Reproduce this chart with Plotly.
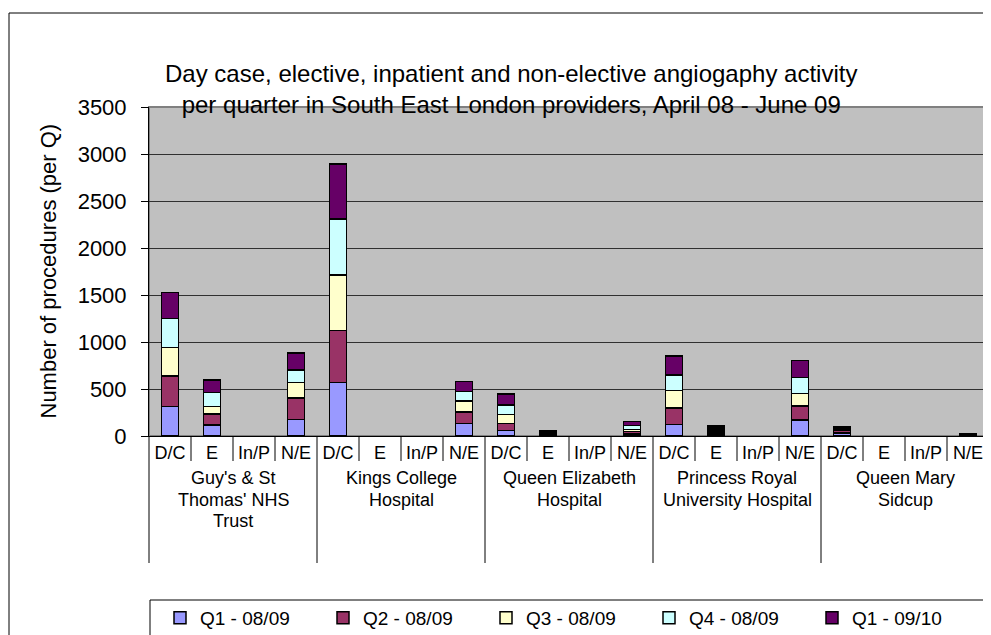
import plotly.graph_objects as go

hospitals = [["Guy's & St", "Thomas' NHS", "Trust"], ["Kings College", "Hospital"],
             ["Queen Elizabeth", "Hospital"], ["Princess Royal", "University Hospital"],
             ["Queen Mary", "Sidcup"]]
types = ["D/C", "E", "In/P", "N/E"]

series_names = ["Q1 - 08/09", "Q2 - 08/09", "Q3 - 08/09", "Q4 - 08/09", "Q1 - 09/10"]
colors = ["#9999FF", "#993366", "#FFFFCC", "#CCFFFF", "#660066"]

N = None
q1_0809 = [312, 117, N, 178, 567, N, N, 135, 56, 11, N, 22, 124, 21, N, 170, 30, N, N, 6]
q2_0809 = [326, 117, N, 227, 558, N, N, 123, 79, 11, N, 24, 173, 21, N, 149, 35, N, N, 6]
q3_0809 = [301, 78, N, 163, 589, N, N, 117, 96, 11, N, 25, 188, 21, N, 135, 10, N, N, 6]
q4_0809 = [309, 149, N, 135, 596, N, N, 96, 99, 11, N, 43, 166, 21, N, 170, 10, N, N, 6]
q1_0910 = [277, 135, N, 178, 585, N, N, 110, 117, 12, N, 39, 202, 22, N, 177, 14, N, N, 5]
series = [q1_0809, q2_0809, q3_0809, q4_0809, q1_0910]

y_ticks = [0, 500, 1000, 1500, 2000, 2500, 3000, 3500]

title_text = ("Day case, elective, inpatient and non-elective angiogaphy activity<br>"
              "per quarter in South East London providers, April 08 - June 09")

FONT = "Liberation Sans, Arial, sans-serif"
n_cat = len(hospitals) * len(types)
xs = list(range(n_cat))
tick_text = [t for _ in hospitals for t in types]

fig = go.Figure()
for name, col, vals in zip(series_names, colors, series):
    fig.add_trace(go.Bar(x=xs, y=vals, name=name,
                         marker=dict(color=col, line=dict(color="black", width=1.5))))

# page has 8px body margin: figure origin is at (8, 8) of the screenshot
OFF = 8
W, H = 991 - OFF, 635 - OFF
# plot geometry in screenshot pixels
L, R, T, B = 149, 989, 107, 436
pw, ph = R - L, B - T


def px_x(p):
    return (p - L) / pw


def px_y(p):
    return (B - p) / ph


shapes = []
# outer chart border
shapes.append(dict(type="rect", xref="paper", yref="paper", x0=px_x(9), x1=px_x(1100),
                   y0=px_y(800), y1=px_y(13), line=dict(color="black", width=1)))
# plot area border (grey)
shapes.append(dict(type="rect", xref="paper", yref="paper", x0=0, x1=1, y0=0, y1=1,
                   line=dict(color="#808080", width=2), layer="below"))
# legend box
shapes.append(dict(type="rect", xref="paper", yref="paper", x0=px_x(150), x1=px_x(1100),
                   y0=px_y(800), y1=px_y(600), line=dict(color="black", width=1)))
# category dividers
for k in range(n_cat + 1):
    long = (k % len(types) == 0)
    shapes.append(dict(type="line", xref="paper", yref="paper", x0=k / n_cat, x1=k / n_cat,
                       y0=0, y1=px_y(563 if long else 461),
                       line=dict(color="black", width=1)))

annotations = []
for g, lines in enumerate(hospitals):
    for j, line in enumerate(lines):
        annotations.append(dict(text=line, xref="paper", yref="paper",
                                x=(g * len(types) + len(types) / 2) / n_cat, y=px_y(478 + 21.5 * j),
                                xanchor="center", yanchor="middle", showarrow=False,
                                font=dict(family=FONT, size=18, color="black")))
annotations.append(dict(text="Number of procedures (per Q)", xref="paper", yref="paper",
                        x=px_x(48), y=0.5, textangle=-90, showarrow=False,
                        xanchor="center", yanchor="middle",
                        font=dict(family=FONT, size=22, color="black")))
annotations.append(dict(text=title_text, xref="paper", yref="paper", x=px_x(511), y=px_y(89),
                        xanchor="center", yanchor="middle", showarrow=False,
                        font=dict(family=FONT, size=24, color="black")))

fig.update_layout(
    width=W, height=H,
    margin=dict(l=L - OFF, r=991 - R, t=T - OFF, b=635 - B, autoexpand=False),
    paper_bgcolor="white", plot_bgcolor="#C0C0C0",
    barmode="stack", bargap=0.6,
    font=dict(family=FONT, color="black"),
    shapes=shapes, annotations=annotations,
    legend=dict(orientation="h", x=px_x(160), y=px_y(618), xanchor="left", yanchor="middle",
                entrywidth=118, font=dict(family=FONT, size=19, color="black"),
                bgcolor="rgba(0,0,0,0)", traceorder="normal"),
    xaxis=dict(range=[-0.5, n_cat - 0.5], tickmode="array", tickvals=xs, ticktext=tick_text,
               showgrid=False, zeroline=False, showline=True, linecolor="black", linewidth=1,
               ticks="", tickfont=dict(family=FONT, size=18, color="black"), fixedrange=True),
    yaxis=dict(range=[0, 3500], tickmode="array", tickvals=y_ticks,
               showgrid=True, gridcolor="#303030", gridwidth=1, zeroline=False,
               showline=True, linecolor="black", linewidth=1,
               ticks="outside", ticklen=7, tickcolor="black", ticklabelstandoff=10,
               tickfont=dict(family=FONT, size=22, color="black")),
)

fig.write_html("out.html")
